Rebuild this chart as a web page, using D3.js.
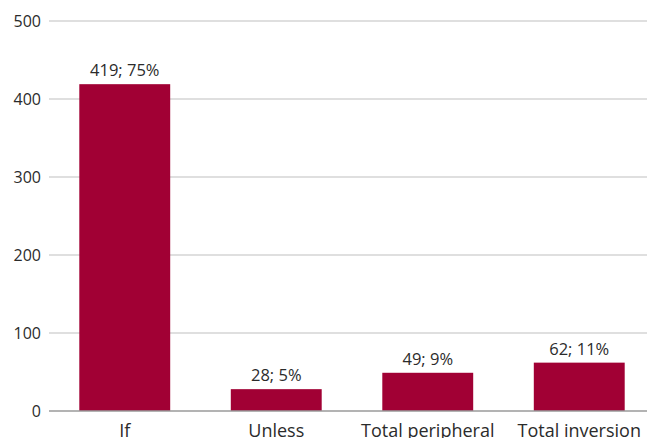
<!DOCTYPE html>
<html lang="en">
  <head>
    <meta charset="UTF-8" />
    <title>Conditional clause types</title>
    <script src="https://d3js.org/d3.v7.min.js"></script>
    <style>
      body { margin: 0; background: #fff; }
      text { font-family: "Open Sans", "Noto Sans", sans-serif; fill: #2b2b2b; }
    </style>
  </head>
  <body>
    <svg width="647" height="438"></svg>
    <script>
      // data
      const categories = ["If", "Unless", "Total peripheral", "Total inversion"];
      const counts = [419, 28, 49, 62];
      const shares = ["75%", "5%", "9%", "11%"];
      const yTicks = [0, 100, 200, 300, 400, 500];

      const svg = d3.select("svg");
      const plotLeft = 49, plotRight = 655, plotTop = 21, plotBottom = 411;

      const x = d3.scaleBand()
        .domain(categories)
        .range([plotLeft, plotRight])
        .paddingInner(0.4)
        .paddingOuter(0.2);

      const y = d3.scaleLinear().domain([0, 500]).range([plotBottom, plotTop]);

      // grid lines
      svg.append("g")
        .selectAll("line")
        .data(yTicks.filter(d => d > 0))
        .enter()
        .append("line")
        .attr("x1", plotLeft)
        .attr("x2", 647)
        .attr("y1", d => y(d))
        .attr("y2", d => y(d))
        .attr("stroke", "#d4d4d4")
        .attr("stroke-width", 1.3);

      // y tick labels
      svg.append("g")
        .selectAll("text")
        .data(yTicks)
        .enter()
        .append("text")
        .attr("x", 41)
        .attr("y", d => y(d))
        .attr("dy", "0.35em")
        .attr("text-anchor", "end")
        .attr("font-size", 16)
        .text(d => d);

      const data = categories.map((c, i) => ({ cat: c, n: counts[i], pct: shares[i] }));

      // bars
      svg.append("g")
        .selectAll("rect")
        .data(data)
        .enter()
        .append("rect")
        .attr("x", d => x(d.cat))
        .attr("width", x.bandwidth())
        .attr("y", d => y(d.n))
        .attr("height", d => y(0) - y(d.n))
        .attr("fill", "#a10034");

      // baseline
      svg.append("line")
        .attr("x1", plotLeft)
        .attr("x2", 647)
        .attr("y1", y(0))
        .attr("y2", y(0))
        .attr("stroke", "#9a9a9a")
        .attr("stroke-width", 1.5);

      // value labels
      svg.append("g")
        .selectAll("text")
        .data(data)
        .enter()
        .append("text")
        .attr("x", d => x(d.cat) + x.bandwidth() / 2)
        .attr("y", d => y(d.n) - 8)
        .attr("text-anchor", "middle")
        .attr("font-size", 16.5)
        .text(d => d.n + "; " + d.pct);

      // category labels
      svg.append("g")
        .selectAll("text")
        .data(categories)
        .enter()
        .append("text")
        .attr("x", d => x(d) + x.bandwidth() / 2)
        .attr("y", 437)
        .attr("text-anchor", "middle")
        .attr("font-size", 18)
        .text(d => d);
    </script>
  </body>
</html>
